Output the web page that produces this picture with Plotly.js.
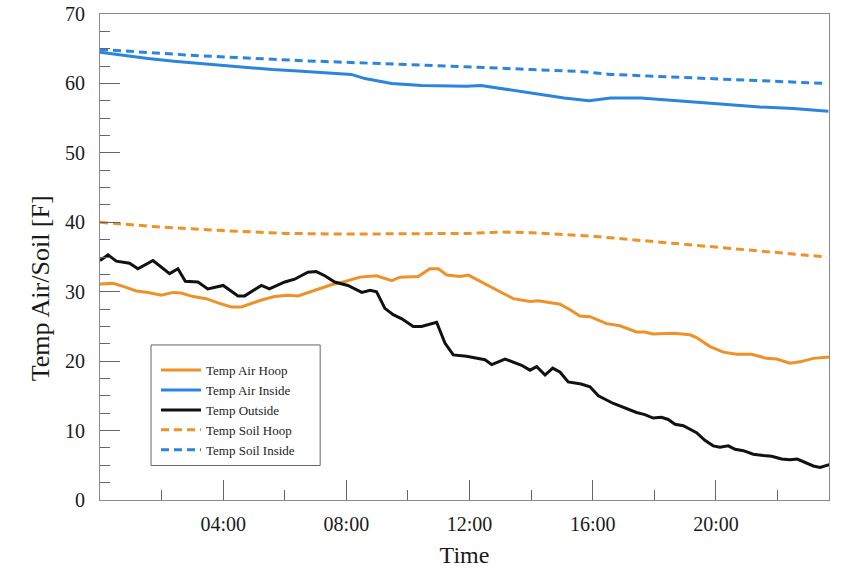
<!DOCTYPE html>
<html>
<head>
<meta charset="utf-8">
<script src="https://cdn.plot.ly/plotly-3.0.1.min.js"></script>
<style>html,body{margin:0;padding:0;background:#fff;}#chart{width:862px;height:571px;}</style>
</head>
<body>
<div id="chart"></div>
<script>
// Hours after midnight and temperatures [F]
const airHoopHours = [0.00,0.42,0.80,1.18,1.56,1.99,2.37,2.64,3.02,3.45,3.83,4.26,4.59,4.91,5.24,5.67,6.10,6.43,6.75,7.08,7.51,7.90,8.44,8.98,9.47,9.74,10.33,10.71,10.98,11.26,11.69,11.96,12.45,12.99,13.42,13.96,14.23,14.94,15.26,15.58,15.91,16.45,16.88,17.42,17.69,17.96,18.61,19.16,19.37,19.81,20.24,20.67,21.16,21.64,21.97,22.40,22.73,23.16,23.68];
const airHoopTemp  = [31.1,31.2,30.7,30.1,29.9,29.5,29.9,29.8,29.3,29.0,28.4,27.8,27.8,28.3,28.8,29.3,29.5,29.4,29.9,30.4,31.0,31.4,32.1,32.3,31.6,32.1,32.2,33.3,33.3,32.4,32.2,32.4,31.2,30.0,29.0,28.6,28.7,28.2,27.4,26.5,26.4,25.4,25.1,24.2,24.2,23.9,24.0,23.8,23.4,22.1,21.3,21.0,21.0,20.4,20.3,19.7,19.9,20.4,20.6];

const airInsideHours = [0.00,0.80,1.56,2.40,3.18,4.00,4.80,5.60,6.43,7.30,8.16,8.60,9.47,10.44,11.90,12.37,13.56,15.07,15.88,16.58,17.56,18.72,20.35,21.43,22.51,23.65];
const airInsideTemp  = [64.5,64.0,63.6,63.2,62.9,62.6,62.3,62.0,61.8,61.6,61.3,60.7,60.0,59.7,59.6,59.7,58.9,57.9,57.5,57.9,57.9,57.5,56.9,56.6,56.4,56.0];

const outsideHours = [0.00,0.26,0.53,0.96,1.23,1.72,2.26,2.53,2.77,3.18,3.50,4.00,4.48,4.70,5.24,5.50,6.00,6.32,6.75,7.02,7.30,7.62,8.05,8.50,8.77,8.98,9.25,9.52,9.80,10.17,10.44,10.93,11.20,11.47,11.90,12.23,12.50,12.72,13.15,13.69,13.96,14.18,14.45,14.70,14.94,15.20,15.62,15.91,16.18,16.67,16.99,17.42,17.69,17.96,18.23,18.45,18.67,18.94,19.37,19.64,19.91,20.13,20.40,20.62,20.89,21.21,21.54,21.81,22.13,22.40,22.64,22.94,23.16,23.38,23.68];
const outsideTemp  = [34.5,35.3,34.4,34.1,33.3,34.5,32.6,33.3,31.5,31.4,30.4,30.9,29.4,29.4,30.9,30.4,31.4,31.8,32.8,32.9,32.3,31.4,30.9,29.9,30.2,30.0,27.6,26.7,26.1,25.0,25.0,25.6,22.6,20.9,20.7,20.4,20.2,19.5,20.3,19.4,18.7,19.2,18.0,19.0,18.4,17.0,16.7,16.3,15.0,13.9,13.3,12.6,12.3,11.8,11.9,11.6,10.9,10.7,9.7,8.6,7.8,7.6,7.8,7.3,7.1,6.6,6.4,6.3,5.9,5.8,5.9,5.3,4.9,4.7,5.1];

const soilHoopHours = [0,2,4,6,8,10,12,13,14,16,18,20,22,23.6];
const soilHoopTemp  = [40.0,39.3,38.8,38.4,38.3,38.3,38.4,38.6,38.5,38.0,37.2,36.5,35.6,35.0];

const soilInsideHours = [0.00,3.18,6.43,9.68,11.85,14.02,15.64,16.56,18.72,20.89,23.57];
const soilInsideTemp  = [64.9,64.0,63.3,62.8,62.4,62.0,61.7,61.3,60.9,60.5,60.0];

const seriesNames = ["Temp Air Hoop","Temp Air Inside","Temp Outside","Temp Soil Hoop","Temp Soil Inside"];
const tickHours = [4,8,12,16,20];
const tickLabels = ["04:00","08:00","12:00","16:00","20:00"];
const yTitle = "Temp Air/Soil [F]";

const ORANGE = "#EF9129", BLUE = "#2A86DD", BLACK = "#111111";
const LW = 3;
const dashPat = "8px,5px";

const traces = [
  {x: airHoopHours, y: airHoopTemp, name: seriesNames[0], line:{color:ORANGE,width:LW}},
  {x: airInsideHours, y: airInsideTemp, name: seriesNames[1], line:{color:BLUE,width:LW}},
  {x: outsideHours, y: outsideTemp, name: seriesNames[2], line:{color:BLACK,width:LW}},
  {x: soilHoopHours, y: soilHoopTemp, name: seriesNames[3], line:{color:ORANGE,width:LW,dash:dashPat}},
  {x: soilInsideHours, y: soilInsideTemp, name: seriesNames[4], line:{color:BLUE,width:LW,dash:dashPat}}
].map(t => Object.assign({type:"scatter", mode:"lines", hoverinfo:"skip"}, t));

const FONT = "Liberation Serif, Times New Roman, serif";

const layout = {
  width: 862, height: 571,
  margin: {l:100, r:33, t:14, b:71, pad:0},
  paper_bgcolor: "#ffffff", plot_bgcolor: "#ffffff",
  font: {family: FONT, color: "#1a1a1a", size: 20},
  showlegend: true,
  legend: {
    x: 0.0768, y: 0.298, xanchor: "left", yanchor: "top",
    bgcolor: "rgba(255,255,255,0)", borderwidth: 0,
    itemwidth: 40,
    font: {family: FONT, size: 13, color: "#222"},
    tracegroupgap: 0
  },
  shapes: [{type:"rect", xref:"paper", yref:"paper", x0:0.07, x1:0.302, y0:0.071, y1:0.319,
            line:{color:"#666", width:1}, fillcolor:"rgba(0,0,0,0)", layer:"above"}],
  annotations: [{text: yTitle, xref:"paper", yref:"paper", x:-0.082, y:0.436, xanchor:"center", yanchor:"middle",
                 textangle:-90, showarrow:false, font:{family: FONT, size: 26, color:"#1a1a1a"}}],
  xaxis: {
    range: [0, 23.67], showgrid: false, zeroline: false,
    showline: true, linecolor: "#8a8a8a", linewidth: 1, mirror: true,
    tickmode: "array", tickvals: tickHours, ticktext: tickLabels,
    ticks: "inside", ticklen: 20, tickcolor: "#666", tickwidth: 1,
    minor: {tickmode:"linear", tick0: 0, dtick: 2, ticks:"inside", ticklen: 10, tickcolor:"#666", tickwidth:1, showgrid:false},
    tickfont: {family: FONT, size: 20, color: "#1a1a1a"},
    ticklabelstandoff: 6,
    title: {text: "Time", font: {family: FONT, size: 24, color: "#1a1a1a"}, standoff: 12}
  },
  yaxis: {
    range: [0, 70], showgrid: false, zeroline: false,
    showline: true, linecolor: "#8a8a8a", linewidth: 1, mirror: true,
    tickmode: "linear", tick0: 0, dtick: 10,
    ticks: "inside", ticklen: 20, tickcolor: "#666", tickwidth: 1,
    minor: {tickmode:"linear", tick0: 0, dtick: 2.5, ticks:"inside", ticklen: 10, tickcolor:"#666", tickwidth:1, showgrid:false},
    tickfont: {family: FONT, size: 20, color: "#1a1a1a"},
    ticklabelstandoff: 10
  }
};

Plotly.newPlot("chart", traces, layout, {staticPlot: true, displayModeBar: false});
</script>
</body>
</html>
